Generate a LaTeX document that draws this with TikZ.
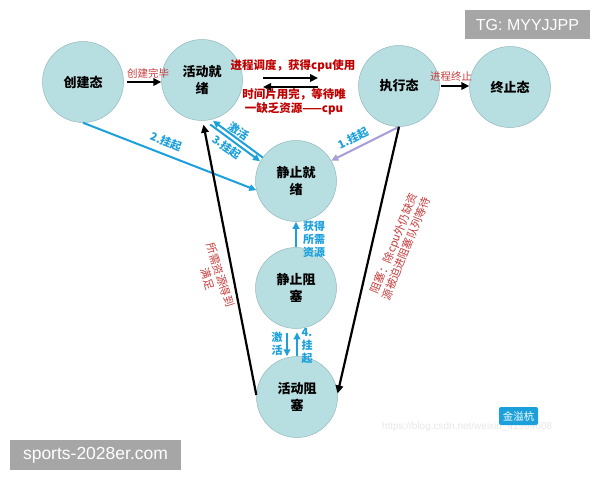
\documentclass[tikz,border=0pt]{standalone}
\usepackage{fontspec}
\setmainfont{Liberation Sans}
\newfontfamily\cjk{Noto Sans CJK SC}
\usetikzlibrary{arrows.meta,calc}
\definecolor{cfill}{RGB}{183,222,224}
\definecolor{cline}{RGB}{150,185,188}
\definecolor{cblue}{RGB}{27,160,220}
\definecolor{cpurp}{RGB}{168,158,215}
\definecolor{cred}{RGB}{192,0,0}
\definecolor{clred}{RGB}{200,60,60}
\definecolor{wgray}{RGB}{166,166,166}
\definecolor{urlgray}{RGB}{232,232,232}
\begin{document}
\begin{tikzpicture}[x=1pt,y=1pt,
  state/.style={circle,minimum size=81pt,inner sep=0pt,fill=cfill,draw=cline,line width=0.5pt,align=center,font=\cjk\bfseries\fontsize{13}{17}\selectfont},
  blk/.style={line width=2.2pt,-{Triangle[length=8pt,width=7.5pt]}},
  bl/.style={cblue,line width=2pt,-{Triangle[length=7pt,width=6.5pt]}},
  pu/.style={cpurp,line width=2pt,-{Triangle[length=7pt,width=6.5pt]}},
  rlab/.style={cred,font=\cjk\bfseries\fontsize{11.5}{14}\selectfont,align=center,inner sep=0pt},
  llab/.style={clred,font=\cjk\fontsize{10.5}{12}\selectfont,inner sep=0pt},
  blab/.style={cblue,font=\cjk\bfseries\fontsize{11}{13}\selectfont,align=center,inner sep=0pt},
  rotlab/.style={clred,font=\cjk\fontsize{11}{13}\selectfont,align=center,inner sep=0pt},
  wm/.style={fill=wgray,text=white,inner sep=0pt}
]
\useasboundingbox (0,0) rectangle (600,-480);
\fill[white] (0,0) rectangle (600,-480);

% states
\node[state] (create) at (83,-82) {创建态};
\node[state] (aready) at (202,-80) {活动就\\绪};
\node[state] (run) at (399,-86) {执行态};
\node[state] (term) at (510,-87) {终止态};
\node[state] (sready) at (296,-181) {静止就\\绪};
\node[state] (sblock) at (296,-288) {静止阻\\塞};
\node[state] (ablock) at (297,-397) {活动阻\\塞};

% top row
\draw[blk,shorten <=3pt] (create.east) -- (create.east -| aready.west);
\node[llab] (lcreate) at (148,-73) {创建完毕};
\draw[blk,shorten <=1pt] (run.east) -- (run.east -| term.west);
\node[llab] (lterm) at (451,-76) {进程终止};

\coordinate (u1) at (263,-78);
\coordinate (u2) at (318,-78);
\coordinate (d1) at (318,-87);
\coordinate (d2) at (263,-87);
\draw[blk] (u1) -- (u2);
\draw[blk] (d1) -- (d2);
\node[rlab] (ldispatch) at (293,-66) {进程调度，获得cpu使用};
\node[rlab] (ltimeout) at (294,-102) {时间片用完，等待唯\\一缺乏资源——cpu};

% suspend arrows
\draw[bl] (create.south) -- (sready.193);
\node[blab,rotate=-21] (l2) at (166,-142) {2.挂起};

\draw[bl,shorten >=4pt] ($(sready.148)!2.3pt!-90:(aready.-81)$) -- ($(aready.-81)!2.3pt!90:(sready.148)$);
\draw[bl,shorten <=4pt] ($(aready.-81)!2.3pt!-90:(sready.148)$) -- ($(sready.148)!2.3pt!90:(aready.-81)$);
\node[blab,rotate=-35] (lact1) at (239,-131) {激活};
\node[blab,rotate=-35] (l3) at (227,-147) {3.挂起};

\draw[pu] (run.south) -- (sready.30);
\node[blab,rotate=27] (l1) at (353,-138) {1.挂起};

% black long lines
\draw[blk] (run.south) -- (ablock.5);
\node[rotlab,rotate=68] (lblock) at (400,-246) {阻塞：除cpu外仍缺资\\源被迫进阻塞队列等待};
\draw[blk,shorten >=4pt] (ablock.177) -- (aready.-89);
\node[rotlab,rotate=-72] (lsat) at (214,-277) {所需资源得到\\满足};

% vertical blue arrows
\draw[bl] (sblock.north) -- (sready.south);
\node[blab] (lget) at (314,-239) {获得\\所需\\资源};
\draw[bl,shorten <=4pt] ([xshift=-9pt]sblock.south) -- ([xshift=-9pt]sblock.south |- ablock.north);
\draw[bl,shorten >=3.5pt] (ablock.north) -- (ablock.north |- sblock.south);
\node[blab] (lact2) at (277,-344) {激\\活};
\node[blab] (l4) at (307,-346) {4.\\挂\\起};

% watermarks
\node[wm,minimum width=125pt,minimum height=29pt,font=\fontsize{16}{18}\selectfont] (tg) at (527.5,-24.5) {TG: MYYJJPP};
\node[wm,minimum width=171pt,minimum height=30pt,font=\fontsize{17.5}{19}\selectfont] (sp) at (95.5,-455) {sports-2028er.com};
\node[text=urlgray,font=\fontsize{10}{12}\selectfont,inner sep=0pt] (url) at (467,-427) {https://blog.csdn.net/weixin\_41994608};
\node[fill=cblue,text=white,rounded corners=2pt,minimum width=39pt,minimum height=18pt,inner sep=0pt,font=\cjk\fontsize{10.5}{12}\selectfont] (badge) at (518.5,-416) {金溢杭};
\end{tikzpicture}
\end{document}
